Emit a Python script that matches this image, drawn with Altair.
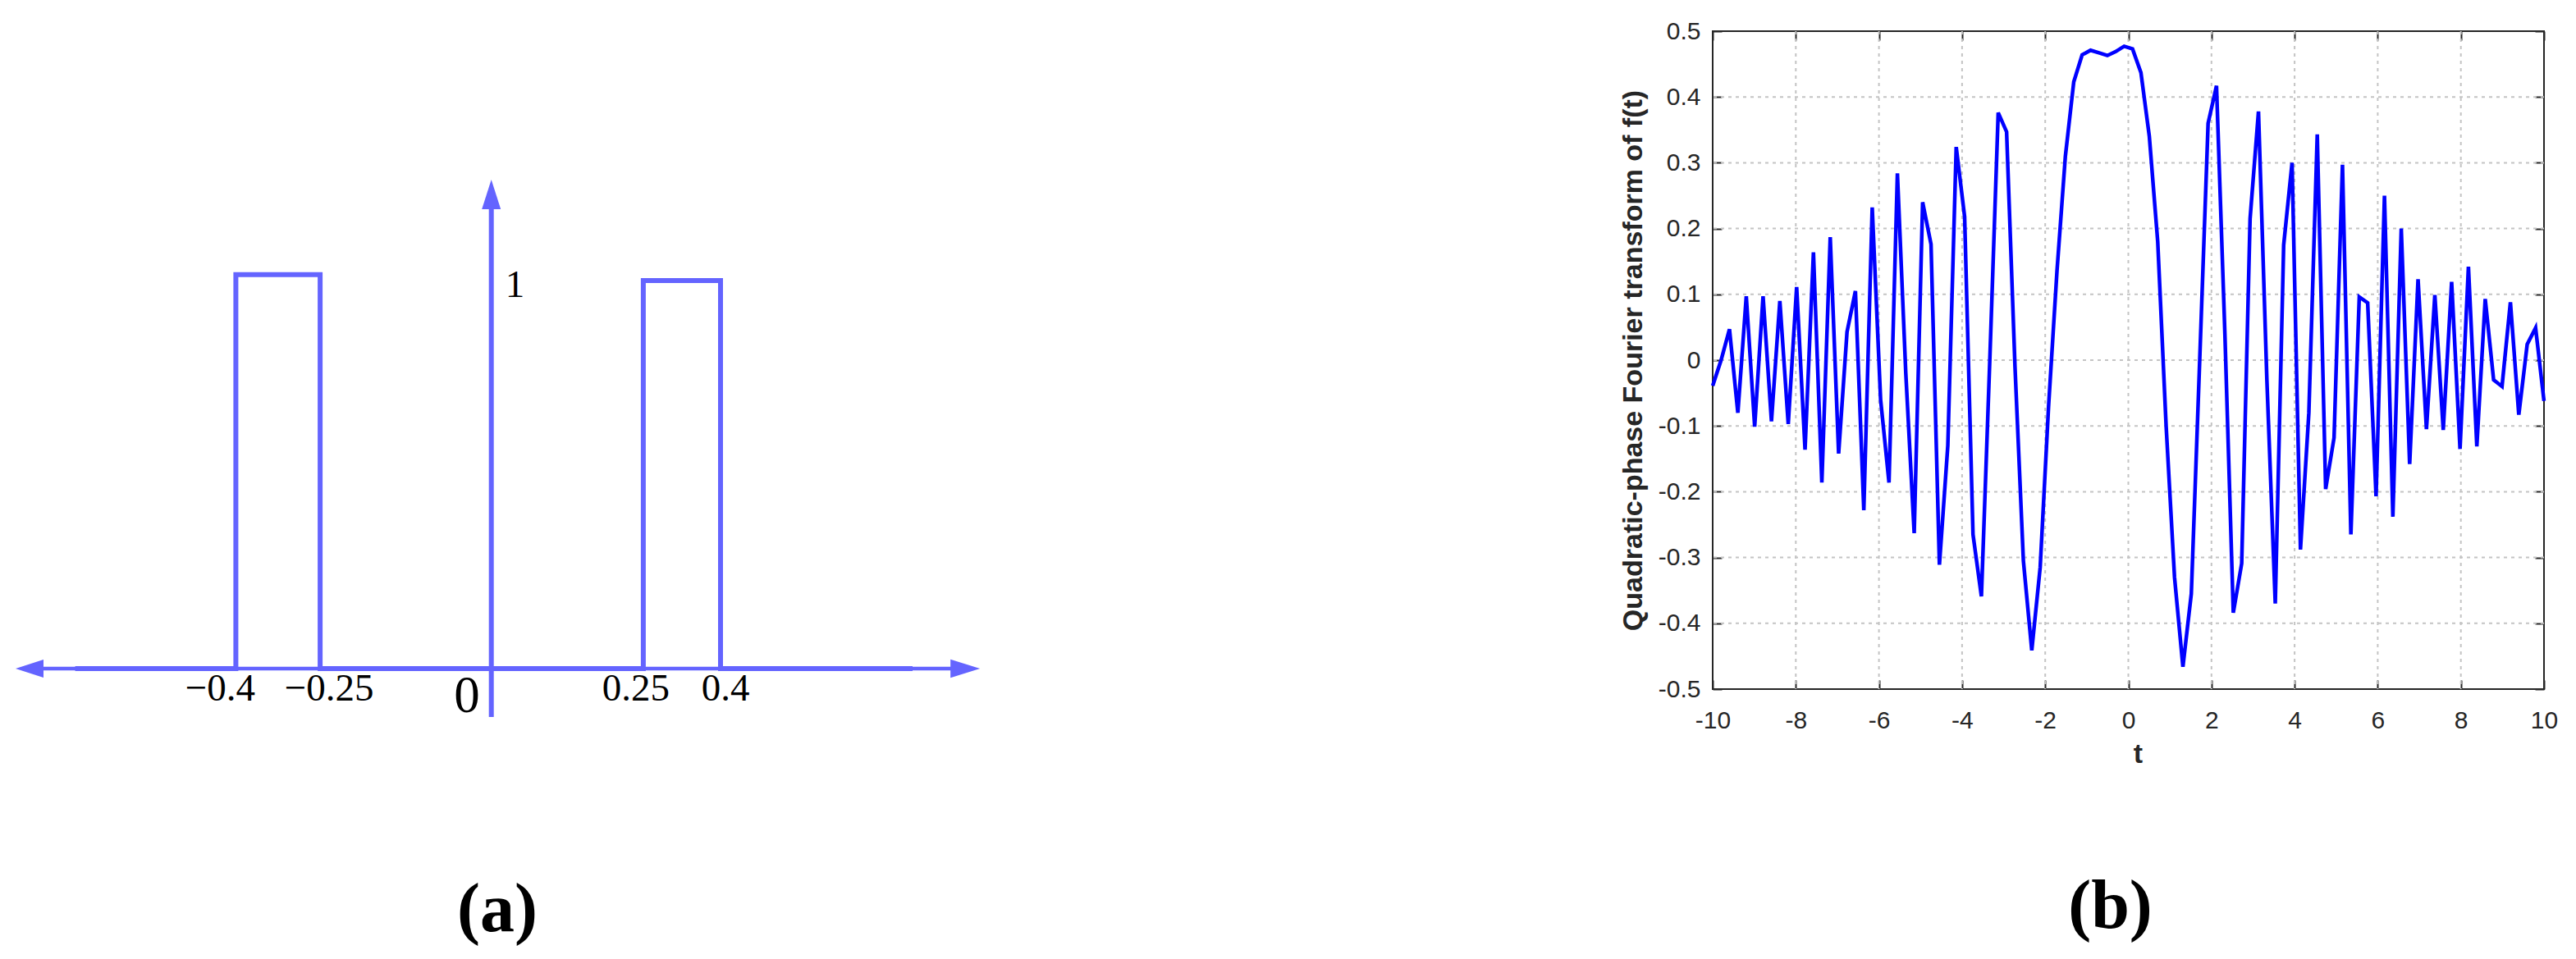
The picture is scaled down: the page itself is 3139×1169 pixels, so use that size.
import altair as alt
import pandas as pd

# ---------------- Panel (a): schematic of f(t) ----------------
pulse_t = [-0.686, -0.4, -0.4, -0.25, -0.25, 0.25, 0.25, 0.4, 0.4, 0.773]
pulse_f = [0.0, 0.0, 1.0, 1.0, 0.0, 0.0, 0.985, 0.985, 0.0, 0.0]
a_tick_values = [-0.4, -0.25, 0.25, 0.4]
a_tick_labels = ["\u22120.4", "\u22120.25", "0.25", "0.4"]
a_haxis = [-0.792, 0.904]      # horizontal axis: arrow tip to arrow tip
a_vaxis = [-0.123, 1.241]      # vertical axis: lower end to arrow tip
a_unit_value = 1.0
a_unit_label = "1"
a_origin_label = "0"

# ---------------- Panel (b): quadratic-phase Fourier transform ----------------
t_values = [
    -10.000, -9.798, -9.596, -9.394, -9.192, -8.990, -8.788, -8.586, -8.384, -8.182,
    -7.980, -7.778, -7.576, -7.374, -7.172, -6.970, -6.768, -6.566, -6.364, -6.162,
    -5.960, -5.758, -5.556, -5.354, -5.152, -4.949, -4.747, -4.545, -4.343, -4.141,
    -3.939, -3.737, -3.535, -3.333, -3.131, -2.929, -2.727, -2.525, -2.323, -2.121,
    -1.919, -1.717, -1.515, -1.313, -1.111, -0.909, -0.707, -0.505, -0.303, -0.101,
    0.101, 0.303, 0.505, 0.707, 0.909, 1.111, 1.313, 1.515, 1.717, 1.919,
    2.121, 2.323, 2.525, 2.727, 2.929, 3.131, 3.333, 3.535, 3.737, 3.939,
    4.141, 4.343, 4.545, 4.747, 4.949, 5.152, 5.354, 5.556, 5.758, 5.960,
    6.162, 6.364, 6.566, 6.768, 6.970, 7.172, 7.374, 7.576, 7.778, 7.980,
    8.182, 8.384, 8.586, 8.788, 8.990, 9.192, 9.394, 9.596, 9.798, 10.000,
]
qpft_values = [
    -0.039, 0.000, 0.047, -0.080, 0.097, -0.101, 0.097, -0.093, 0.090, -0.097,
    0.111, -0.136, 0.164, -0.186, 0.187, -0.142, 0.043, 0.105, -0.228, 0.232,
    -0.060, -0.186, 0.284, -0.020, -0.263, 0.240, 0.176, -0.311, -0.130, 0.324,
    0.218, -0.265, -0.359, 0.000, 0.376, 0.347, -0.010, -0.305, -0.441, -0.315,
    -0.070, 0.135, 0.310, 0.423, 0.464, 0.471, 0.467, 0.463, 0.469, 0.477,
    0.473, 0.437, 0.340, 0.180, -0.100, -0.330, -0.466, -0.355, 0.000, 0.360,
    0.417, 0.040, -0.384, -0.309, 0.215, 0.378, -0.030, -0.370, 0.175, 0.300,
    -0.288, -0.080, 0.343, -0.196, -0.118, 0.297, -0.265, 0.096, 0.087, -0.207,
    0.250, -0.238, 0.200, -0.158, 0.123, -0.105, 0.099, -0.106, 0.119, -0.135,
    0.142, -0.131, 0.093, -0.030, -0.040, 0.088, -0.083, 0.024, 0.049, -0.062,
]
x_ticks = [-10, -8, -6, -4, -2, 0, 2, 4, 6, 8, 10]
y_ticks = [-0.5, -0.4, -0.3, -0.2, -0.1, 0, 0.1, 0.2, 0.3, 0.4, 0.5]
x_grid = [-8, -6, -4, -2, 0, 2, 4, 6, 8]
y_grid = [-0.4, -0.3, -0.2, -0.1, 0, 0.1, 0.2, 0.3, 0.4]
x_title = "t"
y_title = "Quadratic-phase Fourier transform of f(t)"

# ======================= Panel (a) =======================
BLUE_A = "#6464ff"
SERIF = "Liberation Serif"

sxa = alt.Scale(domain=[-0.4, -0.25, 0, 0.25, 0.4],
                range=[278.4, 381.1, 589.7, 774.9, 869.0],
                nice=False, zero=False)
sya = alt.Scale(domain=[-0.1, 1.618], nice=False, zero=False)

df_pulse = pd.DataFrame({"t": pulse_t, "f": pulse_f, "i": list(range(len(pulse_t)))})
df_h = pd.DataFrame({"x1": [a_haxis[0] + 0.03], "x2": [a_haxis[1] - 0.03], "y": [0.0]})
df_v = pd.DataFrame({"x": [0.0], "y1": [a_vaxis[0]], "y2": [a_vaxis[1] - 0.05]})
df_left_tip = pd.DataFrame({"x": [a_haxis[0]], "y": [0.0]})
df_right_tip = pd.DataFrame({"x": [a_haxis[1]], "y": [0.0]})
df_up_tip = pd.DataFrame({"x": [0.0], "y": [a_vaxis[1]]})
df_zero = pd.DataFrame({"t": [0.0], "y": [0.0], "label": [a_origin_label]})
df_one = pd.DataFrame({"t": [0.0], "y": [a_unit_value], "label": [a_unit_label]})

XA = lambda f: alt.X(f, scale=sxa, axis=None)
YA = lambda f: alt.Y(f, scale=sya, axis=None)

hline = alt.Chart(df_h).mark_rule(color=BLUE_A, strokeWidth=4.5).encode(
    x=XA("x1:Q"), x2="x2:Q", y=YA("y:Q"))
vline = alt.Chart(df_v).mark_rule(color=BLUE_A, strokeWidth=6).encode(
    x=XA("x:Q"), y=YA("y1:Q"), y2="y2:Q")
pulse = alt.Chart(df_pulse).mark_line(color=BLUE_A, strokeWidth=6).encode(
    x=XA("t:Q"), y=YA("f:Q"), order="i:Q")

def arrow(df, path, size):
    return alt.Chart(df).mark_point(shape=path, size=size, filled=True, opacity=1,
                                    color=BLUE_A, strokeWidth=0).encode(
        x=XA("x:Q"), y=YA("y:Q"))

arr_left = arrow(df_left_tip, "M0,0 L2,-0.65 L2,0.65 Z", 1156)
arr_right = arrow(df_right_tip, "M0,0 L-2,-0.62 L-2,0.62 Z", 1296)
arr_up = arrow(df_up_tip, "M0,0 L0.64,2 L-0.64,2 Z", 1296)

# tick labels of the hand-drawn sketch, each nudged like in the original drawing
label_nudge = {"\u22120.4": -19, "\u22120.25": 11, "0.25": -9, "0.4": 6}
ticklabs = []
for val, lab in zip(a_tick_values, a_tick_labels):
    d = pd.DataFrame({"t": [val], "y": [0.0], "label": [lab]})
    ticklabs.append(
        alt.Chart(d).mark_text(font=SERIF, fontSize=47, color="black", align="center",
                               baseline="alphabetic", dy=39, dx=label_nudge[lab]).encode(
            x=XA("t:Q"), y=YA("y:Q"), text="label:N"))

zerolab = alt.Chart(df_zero).mark_text(font=SERIF, fontSize=63, color="black",
                                        align="right", baseline="alphabetic", dx=-14, dy=53).encode(
    x=XA("t:Q"), y=YA("y:Q"), text="label:N")
onelab = alt.Chart(df_one).mark_text(font=SERIF, fontSize=47, color="black",
                                      align="left", baseline="alphabetic", dx=17, dy=27).encode(
    x=XA("t:Q"), y=YA("y:Q"), text="label:N")

panel_a = alt.layer(hline, vline, pulse, arr_left, arr_right, arr_up,
                    *ticklabs, zerolab, onelab).properties(
    width=1194, height=825,
    view=alt.ViewBackground(stroke="transparent"),
    title=alt.TitleParams("(a)", orient="bottom", anchor="middle", font=SERIF,
                          fontSize=84, fontWeight="bold", color="black", offset=188),
)

# ======================= Panel (b) =======================
DARK = "#262626"
SANS = "Liberation Sans"
sxb = alt.Scale(domain=[-10, 10], nice=False, zero=False)
syb = alt.Scale(domain=[-0.5, 0.5], nice=False, zero=False)

ax_bottom = alt.Axis(orient="bottom", values=x_ticks,
                     labelExpr="datum.value < 0 ? '-' + format(-datum.value, 'd') : format(datum.value, 'd')",
                     labelFont=SANS, labelFontSize=30, labelColor=DARK, labelPadding=23,
                     labelFlush=False, labelOverlap=False,
                     ticks=True, tickSize=11, tickWidth=2, tickColor=DARK, offset=-11,
                     domain=False, grid=False,
                     title=x_title, titleFont=SANS, titleFontSize=34, titleFontWeight="bold",
                     titleColor=DARK, titlePadding=9, titleX=518)
ax_left = alt.Axis(orient="left", values=y_ticks,
                   labelExpr="datum.value < -0.0001 ? '-' + format(-datum.value, '.1~f') : format(abs(datum.value), '.1~f')",
                   labelFont=SANS, labelFontSize=30, labelColor=DARK, labelPadding=15,
                   labelFlush=False, labelOverlap=False,
                   ticks=True, tickSize=11, tickWidth=2, tickColor=DARK, offset=-11,
                   domain=False, grid=False,
                   title=y_title, titleFont=SANS, titleFontSize=34, titleFontWeight="bold",
                   titleColor=DARK, titlePadding=13)
ax_top = alt.Axis(orient="top", values=x_ticks, labels=False, ticks=True, tickSize=11,
                  tickWidth=2, tickColor=DARK, offset=-11, domain=False, grid=False)
ax_right = alt.Axis(orient="right", values=y_ticks, labels=False, ticks=True, tickSize=11,
                    tickWidth=2, tickColor=DARK, offset=-11, domain=False, grid=False)

df_b = pd.DataFrame({"t": t_values, "v": qpft_values})
df_gx = pd.DataFrame({"t": x_grid})
df_gy = pd.DataFrame({"v": y_grid})

XB = alt.X("t:Q", scale=sxb, axis=ax_bottom)
YB = alt.Y("v:Q", scale=syb, axis=ax_left)

grid_x = alt.Chart(df_gx).mark_rule(color="#c4c4c4", strokeWidth=2, strokeDash=[4, 5]).encode(x=XB)
grid_y = alt.Chart(df_gy).mark_rule(color="#c4c4c4", strokeWidth=2, strokeDash=[4, 5]).encode(y=YB)
curve = alt.Chart(df_b).mark_line(color="#0000ff", strokeWidth=4.5).encode(x=XB, y=YB)

main_b = alt.layer(grid_x, grid_y, curve)
ticks_b = alt.Chart(df_b).mark_line(opacity=0).encode(
    x=alt.X("t:Q", scale=sxb, axis=ax_top, title=None),
    y=alt.Y("v:Q", scale=syb, axis=ax_right, title=None))

panel_b = alt.layer(main_b, ticks_b).resolve_scale(x="independent", y="independent").properties(
    width=1013, height=802,
    view=alt.ViewBackground(stroke=DARK, strokeWidth=2),
    title=alt.TitleParams("(b)", orient="bottom", anchor="middle", font=SERIF,
                          fontSize=84, fontWeight="bold", color="black", offset=129, dx=-22),
)

chart = alt.hconcat(panel_a, panel_b, spacing=884, bounds="flush").properties(
    padding={"left": 0, "top": 14, "right": 10, "bottom": 10},
    background="white",
)

chart.save("out.html", embed_options={"renderer": "svg", "actions": False})
